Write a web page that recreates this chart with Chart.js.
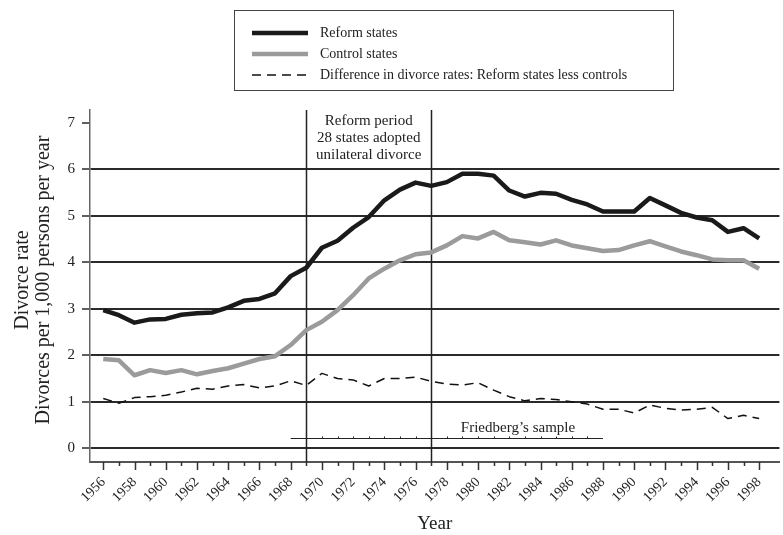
<!DOCTYPE html>
<html lang="en">
<head>
    <meta charset="UTF-8">
    <title>Divorce rates: reform vs control states</title>
    <script src="https://cdn.jsdelivr.net/npm/chart.js"></script>
    <style>
        html, body { margin: 0; padding: 0; background: #fff; }
        canvas { display: block; }
    </style>
</head>
<body>
    <canvas id="divorceChart" width="783" height="535"></canvas>

    <script>
        // data
        const years = [1956, 1957, 1958, 1959, 1960, 1961, 1962, 1963, 1964, 1965, 1966, 1967, 1968, 1969,
                       1970, 1971, 1972, 1973, 1974, 1975, 1976, 1977, 1978, 1979, 1980, 1981, 1982, 1983,
                       1984, 1985, 1986, 1987, 1988, 1989, 1990, 1991, 1992, 1993, 1994, 1995, 1996, 1997, 1998];
        const reformStates = [2.97, 2.86, 2.70, 2.77, 2.78, 2.87, 2.90, 2.92, 3.03, 3.17, 3.21, 3.33, 3.70, 3.88,
                              4.31, 4.46, 4.74, 4.97, 5.33, 5.56, 5.71, 5.64, 5.72, 5.90, 5.90, 5.86, 5.54, 5.41,
                              5.49, 5.47, 5.34, 5.24, 5.09, 5.09, 5.09, 5.38, 5.22, 5.06, 4.96, 4.90, 4.65, 4.73, 4.51];
        const controlStates = [1.92, 1.89, 1.57, 1.68, 1.62, 1.68, 1.59, 1.66, 1.72, 1.82, 1.92, 1.98, 2.22, 2.54,
                               2.72, 2.97, 3.29, 3.65, 3.86, 4.04, 4.17, 4.21, 4.36, 4.56, 4.51, 4.65, 4.47, 4.43,
                               4.38, 4.47, 4.36, 4.30, 4.24, 4.26, 4.36, 4.45, 4.34, 4.23, 4.15, 4.06, 4.04, 4.04, 3.86];
        const difference = [1.07, 0.97, 1.09, 1.11, 1.14, 1.21, 1.29, 1.27, 1.34, 1.37, 1.30, 1.34, 1.45, 1.35,
                            1.61, 1.50, 1.47, 1.34, 1.50, 1.50, 1.53, 1.44, 1.38, 1.36, 1.41, 1.25, 1.11, 1.02,
                            1.07, 1.05, 1.00, 0.95, 0.84, 0.84, 0.76, 0.93, 0.86, 0.82, 0.84, 0.88, 0.64, 0.71, 0.64];
        const yTicks = [0, 1, 2, 3, 4, 5, 6, 7];
        const seriesLabels = ['Reform states', 'Control states', 'Difference in divorce rates: Reform states less controls'];
        const reformPeriod = [1969, 1977];
        const reformText = ['Reform period', '28 states adopted', 'unilateral divorce'];
        const friedberg = { from: 1968, to: 1988, text: 'Friedberg\u2019s sample' };
        const yTitle = ['Divorce rate', 'Divorces per 1,000 persons per year'];

        const SERIF = '"Liberation Serif", "DejaVu Serif", serif';
        const INK = '#222';

        const pts = arr => years.map((yr, i) => ({ x: yr, y: arr[i] }));

        // extra drawing: legend box, reform period lines, notes, minor ticks, y title
        const extras = {
            id: 'extras',
            beforeDatasetsDraw(chart) {
                const c = chart.ctx, xs = chart.scales.x, area = chart.chartArea;
                c.save();
                c.strokeStyle = INK;
                c.lineWidth = 1.5;
                reformPeriod.forEach(yr => {
                    const x = Math.round(xs.getPixelForValue(yr)) + 0.5;
                    c.beginPath();
                    c.moveTo(x, area.top);
                    c.lineTo(x, area.bottom);
                    c.stroke();
                });
                c.restore();
            },
            afterDraw(chart) {
                const c = chart.ctx, xs = chart.scales.x, ys = chart.scales.y, area = chart.chartArea;
                c.save();

                // year ticks: long on even years, short on odd
                c.strokeStyle = '#333';
                c.lineWidth = 1.5;
                years.forEach(yr => {
                    const x = Math.round(xs.getPixelForValue(yr)) + 0.5;
                    c.beginPath();
                    c.moveTo(x, area.bottom);
                    c.lineTo(x, area.bottom + (yr % 2 === 0 ? 8 : 4));
                    c.stroke();
                });

                // reform period caption
                c.fillStyle = INK;
                c.font = '15px ' + SERIF;
                c.textAlign = 'center';
                c.textBaseline = 'middle';
                const mid = (xs.getPixelForValue(reformPeriod[0]) + xs.getPixelForValue(reformPeriod[1])) / 2;
                reformText.forEach((t, i) => c.fillText(t, mid, area.top + 11 + i * 17));

                // Friedberg's sample bracket
                const fy = Math.round(ys.getPixelForValue(0.22)) + 0.5;
                const fx0 = xs.getPixelForValue(friedberg.from), fx1 = xs.getPixelForValue(friedberg.to);
                c.strokeStyle = INK;
                c.lineWidth = 1;
                c.beginPath();
                c.moveTo(fx0, fy);
                c.lineTo(fx1, fy);
                c.stroke();
                for (let yr = friedberg.from + 1; yr < friedberg.to; yr++) {
                    const x = Math.round(xs.getPixelForValue(yr)) + 0.5;
                    c.beginPath();
                    c.moveTo(x, fy);
                    c.lineTo(x, fy - 2);
                    c.stroke();
                }
                c.font = '15px ' + SERIF;
                c.textAlign = 'center';
                c.textBaseline = 'alphabetic';
                c.fillText(friedberg.text, 518, fy - 7);

                // y axis title, two lines
                c.font = '20px ' + SERIF;
                c.textBaseline = 'middle';
                c.translate(0, 280);
                c.rotate(-Math.PI / 2);
                c.fillText(yTitle[0], 0, 23);
                c.fillText(yTitle[1], 0, 44);
                c.setTransform(1, 0, 0, 1, 0, 0);

                // legend box
                c.strokeStyle = '#444';
                c.lineWidth = 1;
                c.strokeRect(234.5, 10.5, 439, 80);
                c.font = '14px ' + SERIF;
                c.textAlign = 'left';
                c.textBaseline = 'middle';
                chart.data.datasets.forEach((ds, i) => {
                    const ly = 33 + i * 21;
                    c.save();
                    c.strokeStyle = ds.borderColor;
                    c.lineWidth = ds.borderWidth;
                    c.setLineDash(ds.borderDash || []);
                    c.beginPath();
                    c.moveTo(252, ly);
                    c.lineTo(308, ly);
                    c.stroke();
                    c.restore();
                    c.fillStyle = INK;
                    c.fillText(ds.label, 320, ly);
                });
                c.restore();
            }
        };

        new Chart(document.getElementById('divorceChart'), {
            type: 'line',
            data: {
                datasets: [
                    { label: seriesLabels[0], data: pts(reformStates), borderColor: '#1a1a1a', borderWidth: 4.5 },
                    { label: seriesLabels[1], data: pts(controlStates), borderColor: '#9b9b9b', borderWidth: 4.5 },
                    { label: seriesLabels[2], data: pts(difference), borderColor: '#111', borderWidth: 1.5, borderDash: [9, 6] }
                ]
            },
            options: {
                responsive: false,
                animation: false,
                layout: { padding: { top: 110, left: 0, right: 0, bottom: 0 } },
                elements: { point: { radius: 0 }, line: { tension: 0, borderJoinStyle: 'round', fill: false } },
                plugins: { legend: { display: false }, tooltip: { enabled: false } },
                scales: {
                    x: {
                        type: 'linear',
                        min: 1955.15,
                        max: 1999.3,
                        afterBuildTicks: s => { s.ticks = years.map(v => ({ value: v })); },
                        afterFit: s => { s.height = 73; },
                        grid: { drawOnChartArea: false, drawTicks: false },
                        border: { color: '#555', width: 2 },
                        ticks: {
                            autoSkip: false, maxRotation: 45, minRotation: 45, padding: 12,
                            color: INK, font: { family: SERIF, size: 14 },
                            callback: v => (v % 2 === 0 ? String(v) : '')
                        },
                        title: { display: true, text: 'Year', color: INK, font: { family: SERIF, size: 19 }, padding: { top: 0, bottom: 0 } }
                    },
                    y: {
                        min: -0.294,
                        max: 7.27,
                        afterBuildTicks: s => { s.ticks = yTicks.map(v => ({ value: v })); },
                        afterFit: s => { s.width = 90; },
                        grid: {
                            color: c => (c.tick && c.tick.value === 7 ? 'rgba(0,0,0,0)' : '#2a2a2a'),
                            lineWidth: 2, tickLength: 8, tickColor: '#2a2a2a', tickWidth: 1.5
                        },
                        border: { color: '#666', width: 1.5 },
                        ticks: { padding: 7, color: INK, font: { family: SERIF, size: 15 } }
                    }
                }
            },
            plugins: [extras]
        });
    </script>
</body>
</html>
